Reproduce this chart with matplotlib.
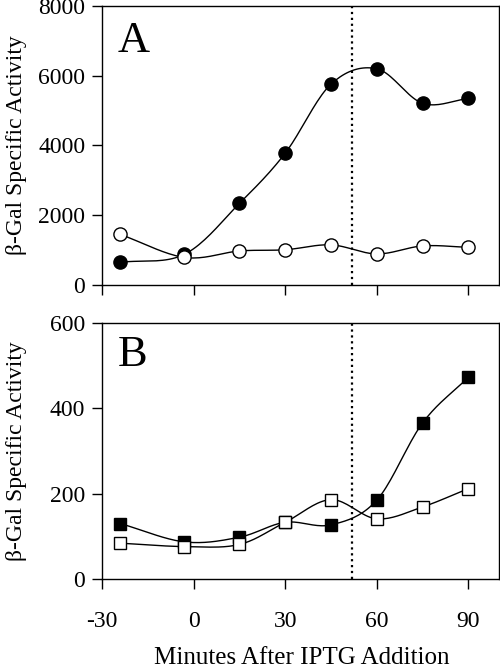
import numpy as np
import matplotlib
matplotlib.use('Agg')
import matplotlib.pyplot as plt

# minutes after IPTG addition
minutes = [-24, -3, 15, 30, 45, 60, 75, 90]

# panel A (circles)
a_filled = [650, 880, 2340, 3780, 5760, 6200, 5210, 5350]
a_open = [1450, 790, 975, 1010, 1150, 890, 1120, 1080]

# panel B (squares)
b_filled = [130, 87, 98, 133, 127, 185, 366, 473]
b_open = [84, 76, 81, 133, 186, 141, 169, 212]

x_ticks = [-30, 0, 30, 60, 90]
a_yticks = [0, 2000, 4000, 6000, 8000]
b_yticks = [0, 200, 400, 600]
vline_x = 52

plt.rcParams['font.family'] = ['Liberation Serif', 'DejaVu Serif']
plt.rcParams['axes.unicode_minus'] = False


def smooth(x, y, n=20):
    # Catmull-Rom curve through the points, only for drawing the line
    x = np.asarray(x, float)
    y = np.asarray(y, float)
    px = np.concatenate([[2 * x[0] - x[1]], x, [2 * x[-1] - x[-2]]])
    py = np.concatenate([[2 * y[0] - y[1]], y, [2 * y[-1] - y[-2]]])
    xs, ys = [], []
    t = np.linspace(0, 1, n, endpoint=False)
    for i in range(1, len(px) - 2):
        for p, out in ((px, xs), (py, ys)):
            p0, p1, p2, p3 = p[i - 1], p[i], p[i + 1], p[i + 2]
            out.append(0.5 * (2 * p1 + (-p0 + p2) * t
                              + (2 * p0 - 5 * p1 + 4 * p2 - p3) * t ** 2
                              + (-p0 + 3 * p1 - 3 * p2 + p3) * t ** 3))
    xs.append([x[-1]])
    ys.append([y[-1]])
    return np.concatenate(xs), np.concatenate(ys)


def draw_panel(ax, series, yticks, letter, show_xlabels):
    for vals, marker, face in series:
        sx, sy = smooth(minutes, vals)
        ax.plot(sx, sy, color='black', lw=1.0, zorder=2)
        ax.plot(minutes, vals, ls='none', marker=marker, ms=9.5 if marker == 'o' else 9,
                mfc=face, mec='black', mew=1.0, zorder=3)
    ax.axvline(vline_x, color='black', ls=':', lw=1.6, zorder=1)
    ax.set_xlim(-30, 100)
    ax.set_ylim(yticks[0], yticks[-1])
    ax.set_xticks(x_ticks)
    ax.set_yticks(yticks)
    ax.tick_params(direction='out', length=7, width=1, labelsize=17)
    ax.tick_params(axis='x', pad=16)
    ax.tick_params(axis='y', pad=5)
    if not show_xlabels:
        ax.set_xticklabels([])
    ax.set_ylabel('β-Gal Specific Activity', fontsize=17)
    ax.yaxis.set_label_coords(-0.19, 0.5)
    ax.text(0.04, 0.875, letter, transform=ax.transAxes, fontsize=32, va='center')
    for s in ax.spines.values():
        s.set_linewidth(1.0)


fig = plt.figure(figsize=(5.0, 6.68), dpi=100)
ax_a = fig.add_axes([0.204, 0.5734, 0.794, 0.4176])
ax_b = fig.add_axes([0.204, 0.1332, 0.794, 0.3833])

draw_panel(ax_a, [(a_filled, 'o', 'black'), (a_open, 'o', 'white')], a_yticks, 'A', False)
draw_panel(ax_b, [(b_filled, 's', 'black'), (b_open, 's', 'white')], b_yticks, 'B', True)
fig.text(0.604, 0.015, 'Minutes After IPTG Addition', fontsize=18, ha='center', va='center')

fig.savefig('out.png', dpi=100)
